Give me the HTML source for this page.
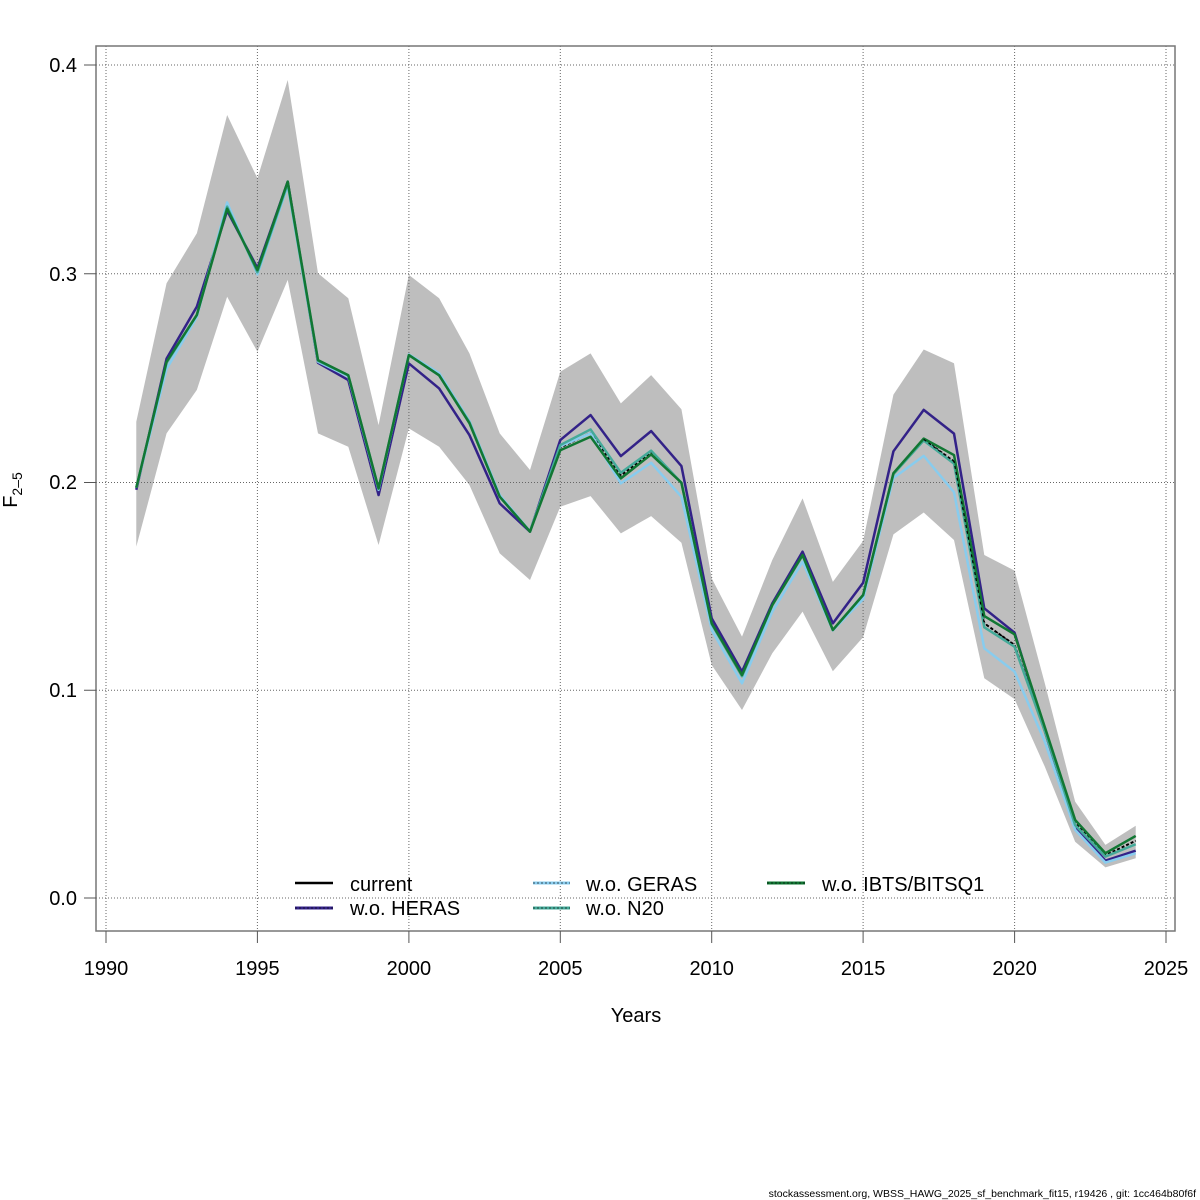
<!DOCTYPE html>
<html><head><meta charset="utf-8"><style>
html,body{margin:0;padding:0;background:#fff;}
svg{display:block;}
text{font-family:"Liberation Sans",Arial,sans-serif;fill:#000;}
</style></head><body>
<svg width="1200" height="1200" viewBox="0 0 1200 1200" xmlns="http://www.w3.org/2000/svg">
<rect x="0" y="0" width="1200" height="1200" fill="#fff"/>
<g transform="translate(106,898) scale(30.2857,-2.0825)">
<polygon fill="#BEBEBE" stroke="none" points="1,228.7 2,295.2 3,319.2 4,376 5,345.6 6,392.8 7,300 8,288 9,227.1 10,299.2 11,288 12,261.5 13,223.1 14,205.5 15,252.7 16,261.5 17,237.5 18,251.1 19,234.7 20,153.5 21,125.5 22,162.3 23,191.9 24,151.8 25,171.5 26,241.7 27,263.4 28,256.8 29,164.7 30,157.2 31,103 32,46.3 33,25.5 34,34.7 34,19.1 33,14.7 32,27 31,63 30,95.5 29,105.5 28,171.9 27,185.1 26,174.6 25,125.3 24,108.9 23,137.5 22,117.5 21,90.3 20,111.9 19,170.6 18,183.4 17,175.1 16,193 15,187.9 14,152.7 13,165.5 12,198.3 11,216.7 10,225.5 9,169.5 8,216.7 7,223.1 6,296.8 5,262.3 4,288.7 3,244 2,223.1 1,168.7"/>
</g>
<g stroke="#666" stroke-width="1" stroke-dasharray="1,2" fill="none">
<line x1="96" y1="65" x2="1175" y2="65"/>
<line x1="96" y1="273.75" x2="1175" y2="273.75"/>
<line x1="96" y1="482.5" x2="1175" y2="482.5"/>
<line x1="96" y1="690.25" x2="1175" y2="690.25"/>
<line x1="96" y1="898" x2="1175" y2="898"/>
<line x1="106" y1="46" x2="106" y2="931"/>
<line x1="257.4" y1="46" x2="257.4" y2="931"/>
<line x1="408.9" y1="46" x2="408.9" y2="931"/>
<line x1="560.3" y1="46" x2="560.3" y2="931"/>
<line x1="711.7" y1="46" x2="711.7" y2="931"/>
<line x1="863.1" y1="46" x2="863.1" y2="931"/>
<line x1="1014.6" y1="46" x2="1014.6" y2="931"/>
<line x1="1166" y1="46" x2="1166" y2="931"/>
</g>
<g transform="translate(106,898) scale(30.2857,-2.0825)" fill="none" stroke-linejoin="round">
<polyline vector-effect="non-scaling-stroke" stroke="#000" stroke-width="2" stroke-dasharray="3,2" points="1,197 2,257.2 3,280 4,331.5 5,301 6,343.5 7,258.2 8,251 9,196.6 10,260.7 11,251 12,228.3 13,192.7 14,176 15,216.3 16,223.3 17,202.9 18,213.9 19,199.4 20,131.7 21,106.8 22,140.6 23,164.6 24,128.7 25,145.5 26,203.8 27,220.2 28,209.6 29,131.9 30,121.5 31,80.5 32,36 33,20.5 34,27.5"/>
<polyline vector-effect="non-scaling-stroke" stroke="#332288" stroke-width="2.5" points="1,196 2,259 3,284 4,330 5,302.5 6,344 7,257 8,248.7 9,193.5 10,256.7 11,244.7 12,222.3 13,189.5 14,175.9 15,219.9 16,231.9 17,212.2 18,224.2 19,207.4 20,134.3 21,108.7 22,141.5 23,166.3 24,131.9 25,151.4 26,214.5 27,234.4 28,223 29,139.1 30,127.4 31,80 32,34.2 33,17.9 34,22.7"/>
<polyline vector-effect="non-scaling-stroke" stroke="#88CCEE" stroke-width="2.5" points="1,197 2,254 3,279 4,334 5,299.5 6,342 7,257.5 8,250.5 9,196 10,261 11,252 12,229 13,193.5 14,176 15,217 16,223.1 17,199.1 18,209 19,192.7 20,128.7 21,103.1 22,137.5 23,161.5 24,128.5 25,143.5 26,201.7 27,212.3 28,194.9 29,119.9 30,108.7 31,75 32,32.7 33,17 34,21.5"/>
<polyline vector-effect="non-scaling-stroke" stroke="#44AA99" stroke-width="2.5" points="1,197 2,257 3,280 4,332 5,300.5 6,343 7,258 8,251 9,196.5 10,260.7 11,251 12,228.5 13,192.7 14,176 15,217.5 16,225 17,204.2 18,214.8 19,199.4 20,131.5 21,106.5 22,140.5 23,164.5 24,128.7 25,145.5 26,203.5 27,219.7 28,208.6 29,130 30,120.7 31,80 32,35 33,19.9 34,25.8"/>
<polyline vector-effect="non-scaling-stroke" stroke="#117733" stroke-width="2.5" points="1,197 2,257.5 3,280 4,331 5,301.5 6,344 7,258.3 8,251 9,196.7 10,260.7 11,251 12,228 13,192.7 14,175.9 15,215 16,221.5 17,201.5 18,213 19,199.4 20,131.9 21,107.1 22,140.7 23,164.7 24,128.7 25,145.5 26,204 27,220.6 28,212.7 29,135.4 30,126.6 31,82 32,37.5 33,21.5 34,29.8"/>
</g>
<g transform="translate(106,898) scale(30.2857,-2.0825)" fill="none" stroke-linejoin="round">
<polyline vector-effect="non-scaling-stroke" stroke="#000" stroke-width="1.2" stroke-dasharray="3,3" points="27,220.2 28,209.6 29,131.9 30,121.5"/>
</g>
<rect x="96" y="46" width="1079" height="885" fill="none" stroke="#777" stroke-width="1.5"/>
<g stroke="#555" stroke-width="1">
<line x1="84" y1="65" x2="96" y2="65"/>
<line x1="84" y1="273.75" x2="96" y2="273.75"/>
<line x1="84" y1="482.5" x2="96" y2="482.5"/>
<line x1="84" y1="690.25" x2="96" y2="690.25"/>
<line x1="84" y1="898" x2="96" y2="898"/>
<line x1="106" y1="931" x2="106" y2="943"/>
<line x1="257.4" y1="931" x2="257.4" y2="943"/>
<line x1="408.9" y1="931" x2="408.9" y2="943"/>
<line x1="560.3" y1="931" x2="560.3" y2="943"/>
<line x1="711.7" y1="931" x2="711.7" y2="943"/>
<line x1="863.1" y1="931" x2="863.1" y2="943"/>
<line x1="1014.6" y1="931" x2="1014.6" y2="943"/>
<line x1="1166" y1="931" x2="1166" y2="943"/>
</g>
<g font-size="20" text-anchor="end">
<text x="77" y="72">0.4</text>
<text x="77" y="281">0.3</text>
<text x="77" y="489">0.2</text>
<text x="77" y="697">0.1</text>
<text x="77" y="905">0.0</text>
</g>
<g font-size="20" text-anchor="middle">
<text x="106" y="975">1990</text>
<text x="257.4" y="975">1995</text>
<text x="408.9" y="975">2000</text>
<text x="560.3" y="975">2005</text>
<text x="711.7" y="975">2010</text>
<text x="863.1" y="975">2015</text>
<text x="1014.6" y="975">2020</text>
<text x="1166" y="975">2025</text>
<text x="636" y="1022">Years</text>
</g>
<text transform="translate(17,490) rotate(-90)" font-size="20" text-anchor="middle">F<tspan font-size="14" dy="5">2–5</tspan></text>
<g>
<line x1="295" y1="883" x2="333" y2="883" stroke="#000" stroke-width="2.5"/>
<line x1="295" y1="908" x2="333" y2="908" stroke="#332288" stroke-width="3"/>
<line x1="295" y1="908" x2="333" y2="908" stroke="#000" stroke-width="1" stroke-dasharray="2,2" opacity="0.6"/>
<line x1="533" y1="883" x2="570" y2="883" stroke="#88CCEE" stroke-width="3"/>
<line x1="533" y1="883" x2="570" y2="883" stroke="#000" stroke-width="1" stroke-dasharray="2,2" opacity="0.6"/>
<line x1="533" y1="908" x2="570" y2="908" stroke="#44AA99" stroke-width="3"/>
<line x1="533" y1="908" x2="570" y2="908" stroke="#000" stroke-width="1" stroke-dasharray="2,2" opacity="0.6"/>
<line x1="767" y1="883" x2="805" y2="883" stroke="#117733" stroke-width="3"/>
<line x1="767" y1="883" x2="805" y2="883" stroke="#000" stroke-width="1" stroke-dasharray="2,2" opacity="0.6"/>
</g>
<g font-size="20">
<text x="350" y="891">current</text>
<text x="350" y="915">w.o. HERAS</text>
<text x="586" y="891">w.o. GERAS</text>
<text x="586" y="915">w.o. N20</text>
<text x="822" y="891">w.o. IBTS/BITSQ1</text>
</g>
<text x="1196" y="1197" font-size="10.5" text-anchor="end">stockassessment.org, WBSS_HAWG_2025_sf_benchmark_fit15, r19426 , git: 1cc464b80f6f</text>
</svg>
</body></html>
